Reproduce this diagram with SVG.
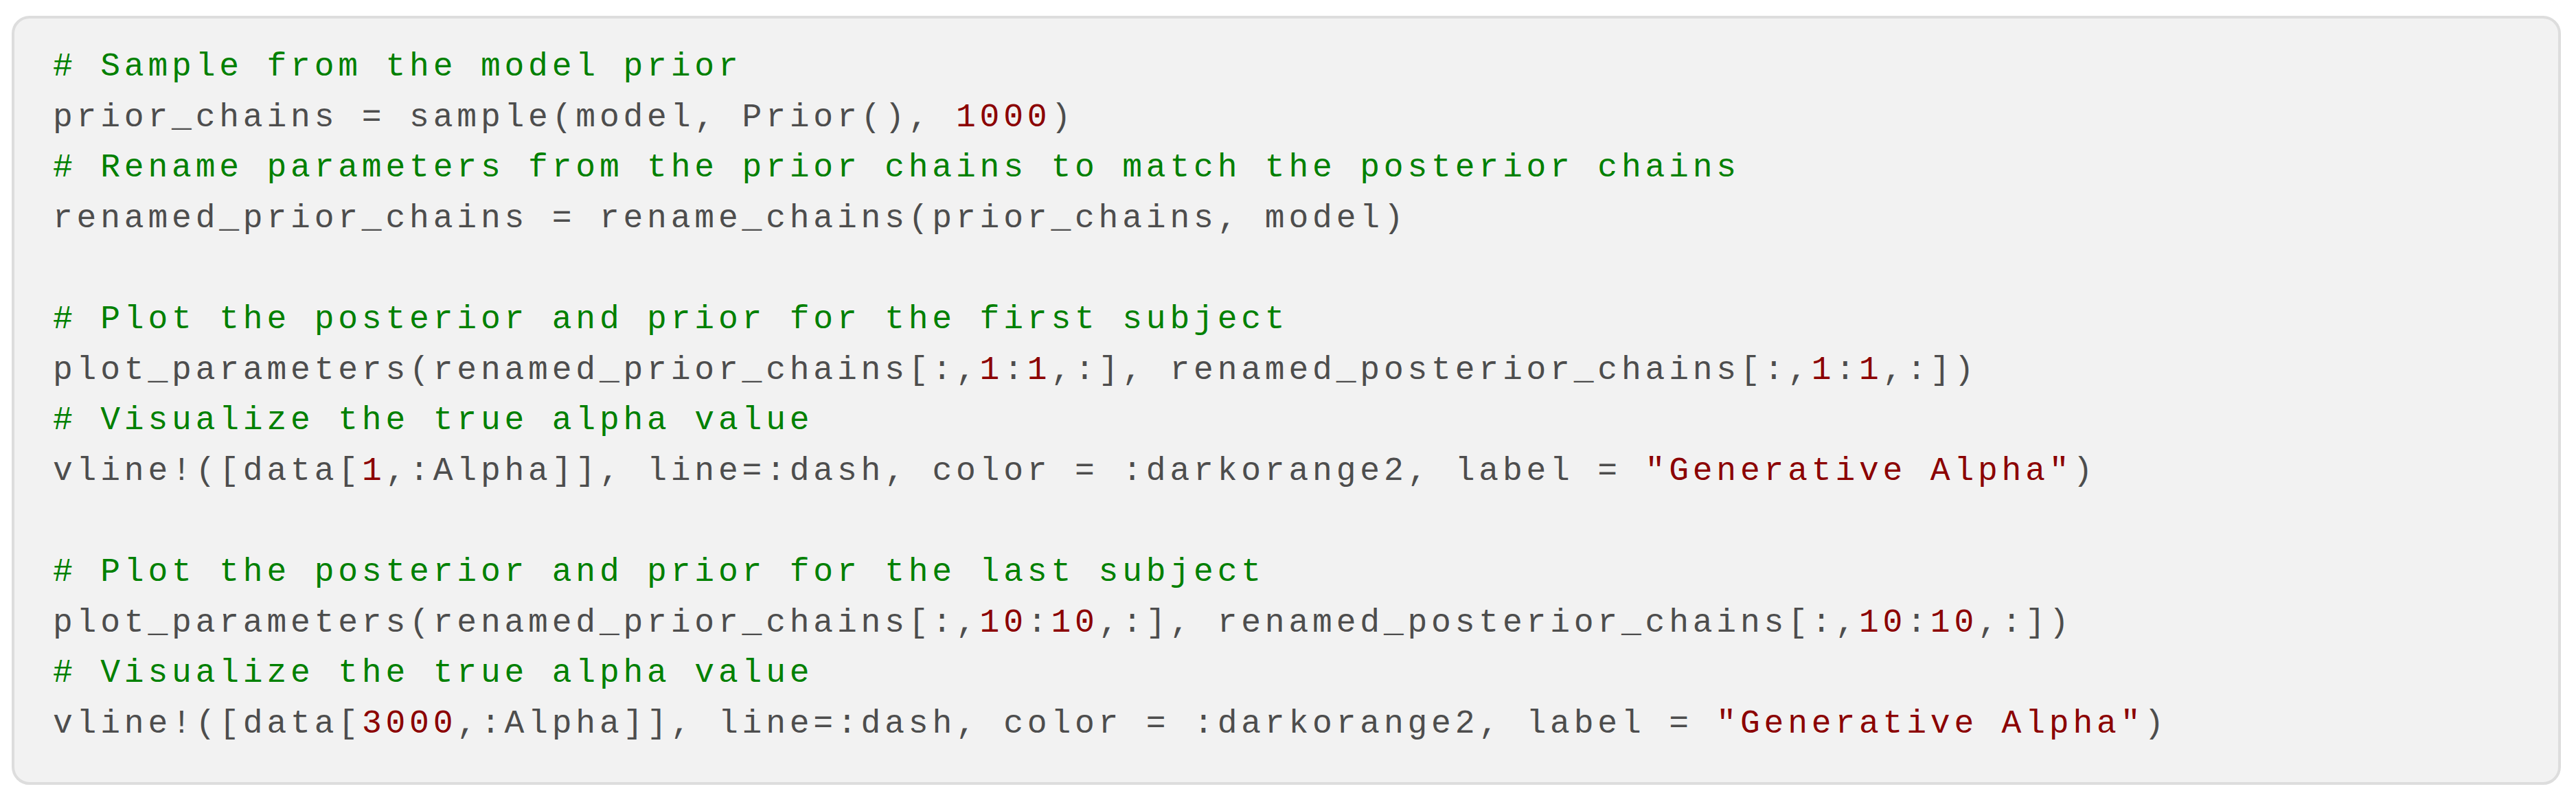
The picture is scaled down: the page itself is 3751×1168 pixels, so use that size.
<svg xmlns="http://www.w3.org/2000/svg" width="3751" height="1168" viewBox="0 0 3751 1168">
<style>
text{font-family:"Liberation Mono","DejaVu Sans Mono",monospace;font-size:48px;letter-spacing:5.8px;fill:#4d4d4d;white-space:pre}
.c{fill:#008000}.n{fill:#8b0000}
</style>
<rect width="3751" height="1168" fill="#ffffff"/>
<g id="codeblock">
<rect x="19" y="25" width="3708" height="1116" rx="24" fill="#f2f2f2" stroke="#dddddd" stroke-width="4"/>
<text x="77" y="110" class="c" xml:space="preserve"># Sample from the model prior</text>
<text x="77" y="183.6" xml:space="preserve">prior_chains = sample(model, Prior(), <tspan class="n">1000</tspan>)</text>
<text x="77" y="257.2" class="c" xml:space="preserve"># Rename parameters from the prior chains to match the posterior chains</text>
<text x="77" y="330.8" xml:space="preserve">renamed_prior_chains = rename_chains(prior_chains, model)</text>
<text x="77" y="478" class="c" xml:space="preserve"># Plot the posterior and prior for the first subject</text>
<text x="77" y="551.6" xml:space="preserve">plot_parameters(renamed_prior_chains[:,<tspan class="n">1</tspan>:<tspan class="n">1</tspan>,:], renamed_posterior_chains[:,<tspan class="n">1</tspan>:<tspan class="n">1</tspan>,:])</text>
<text x="77" y="625.2" class="c" xml:space="preserve"># Visualize the true alpha value</text>
<text x="77" y="698.8" xml:space="preserve">vline!([data[<tspan class="n">1</tspan>,:Alpha]], line=:dash, color = :darkorange2, label = <tspan class="n">"Generative Alpha"</tspan>)</text>
<text x="77" y="846" class="c" xml:space="preserve"># Plot the posterior and prior for the last subject</text>
<text x="77" y="919.6" xml:space="preserve">plot_parameters(renamed_prior_chains[:,<tspan class="n">10</tspan>:<tspan class="n">10</tspan>,:], renamed_posterior_chains[:,<tspan class="n">10</tspan>:<tspan class="n">10</tspan>,:])</text>
<text x="77" y="993.2" class="c" xml:space="preserve"># Visualize the true alpha value</text>
<text x="77" y="1066.8" xml:space="preserve">vline!([data[<tspan class="n">3000</tspan>,:Alpha]], line=:dash, color = :darkorange2, label = <tspan class="n">"Generative Alpha"</tspan>)</text>
</g>
</svg>
